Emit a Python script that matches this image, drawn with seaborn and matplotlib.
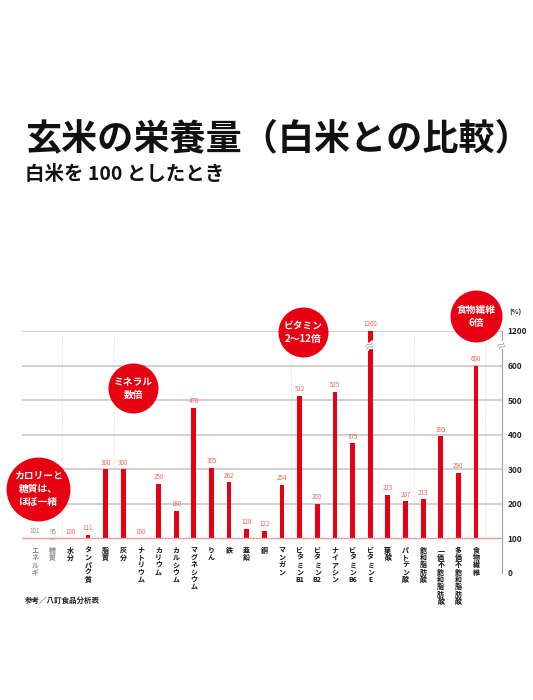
import numpy as np
import matplotlib
matplotlib.use("Agg")
import matplotlib.pyplot as plt
import matplotlib.patheffects as pe
import seaborn as sns

# data (玄米 / 白米 = 100)
categories = ['エネルギ', '糖質', '水分', 'タンパク質', '脂質', '灰分', 'ナトリウム',
              'カリウム', 'カルシウム', 'マグネシウム', 'りん', '鉄', '亜鉛', '銅',
              'マンガン', 'ビタミンB1', 'ビタミンB2', 'ナイアシン', 'ビタミンB6',
              'ビタミンE', '葉酸', 'パトテン酸', '飽和脂肪酸', '一価不飽和脂肪酸',
              '多価不飽和脂肪酸', '食物繊維']
values = [101, 95, 100, 111, 300, 300, 100, 258, 180, 478, 305, 262, 128, 122,
          254, 512, 200, 525, 375, 1200, 225, 207, 213, 395, 290, 600]
muted = ['エネルギ', '糖質']
tick_values = [0, 100, 200, 300, 400, 500, 600, 700]
tick_labels = ['0', '100', '200', '300', '400', '500', '600', '1200']
group_edges = [1.5, 4.5, 14.5, 21.5, 25.5]
callouts = [
    ('カロリーと\n糖質は、\nほぼ一緒', 0.17, 243, 2116),
    ('ミネラル\n数倍', 5.56, 535, 1296),
    ('ビタミン\n2〜12倍', 15.19, 697, 1296),
    ('食物繊維\n6倍', 25.0, 743, 1400),
]

RED = '#e60012'
LABEL_RED = '#f26450'
GREY = '#8c8c8c'

sns.set_theme(style='white')
plt.rcParams['font.family'] = ['Noto Sans CJK JP', 'DejaVu Sans']

# values above 600 are drawn at the 700 slot (axis break -> 1200)
shown = np.where(np.array(values) > 600, 700, np.array(values))
heights = shown - 100


def tategaki(s):
    out, buf = [], ''
    for ch in s:
        if ch.isascii():
            buf += ch
        else:
            if buf:
                out.append(buf)
                buf = ''
            out.append(ch)
    if buf:
        out.append(buf)
    return '\n'.join(out)


fig = plt.figure(figsize=(5.33, 7.0), dpi=100)
ax = fig.add_axes([22 / 533, 1 - 573 / 700, 480 / 533, 242 / 700])

colors = ['#d0d0d0' if c in muted else RED for c in categories]
sns.barplot(x=categories, y=heights, hue=categories, palette=colors, legend=False,
            bottom=100, width=0.27, linewidth=0, saturation=1, ax=ax, zorder=3)

ax.set_xlim(-0.74, 26.47)
ax.set_ylim(0, 700)

# grid lines
for v in tick_values[2:]:
    ax.axhline(v, color='#c8c8c8', lw=1.2, zorder=1)
ax.axhline(100, color='#f59a9a', lw=1.0, zorder=4)

# faint group separators
ax.vlines(group_edges, 100, 700, colors='#f6cfcf', lw=0.7, linestyles=(0, (1, 1.5)),
          zorder=0.5)

# value labels
for i, (v, h) in enumerate(zip(values, shown)):
    col = GREY if categories[i] in muted else LABEL_RED
    ax.text(i, max(h, 100) + 8, str(v), ha='center', va='bottom', fontsize=4.5,
            color=col, zorder=5)

# axes styling
for s in ['top', 'left', 'bottom']:
    ax.spines[s].set_visible(False)
ax.spines['right'].set_color('#a0a0a0')
ax.spines['right'].set_linewidth(0.8)
ax.yaxis.tick_right()
ax.set_yticks(tick_values)
ax.set_yticklabels(tick_labels, fontsize=6, fontweight='bold', color='#222222')
ax.tick_params(axis='y', length=0, pad=4)

ax.set_xticks(range(len(categories)))
ax.set_xticklabels([tategaki(c) for c in categories], fontsize=5, fontweight='bold',
                   linespacing=1.05)
ax.tick_params(axis='x', length=0, pad=-19)
for lab, c in zip(ax.get_xticklabels(), categories):
    lab.set_color(GREY if c in muted else '#111111')
    lab.set_va('top')
ax.set_xlabel('')
ax.set_ylabel('')

# axis break marks
brk = dict(fontsize=8, color='#999999', ha='center', va='center', rotation=25,
           path_effects=[pe.withStroke(linewidth=2.5, foreground='white')], zorder=6)
ax.text(1.0, 654, '≈', transform=ax.get_yaxis_transform(), clip_on=False, **brk)
ax.text(categories.index('ビタミンE'), 654, '≈', **brk)

# red callout circles
for text, cx, cy, size in callouts:
    ax.scatter([cx], [cy], s=size, color=RED, linewidths=0, zorder=7, clip_on=False)
    ax.text(cx, cy, text, ha='center', va='center', color='white', fontsize=7,
            fontweight='bold', linespacing=1.4, zorder=8, clip_on=False)

fig.text(515 / 533, 1 - 312 / 700, '(%)', fontsize=5, fontweight='bold', ha='center',
         va='center', color='#222222')

fig.text(25 / 533, 1 - 139 / 700, '玄米の栄養量（白米との比較）', fontsize=26,
         fontweight='bold', ha='left', va='center', color='#111111')
fig.text(25 / 533, 1 - 175 / 700, '白米を 100 としたとき', fontsize=14,
         fontweight='bold', ha='left', va='center', color='#111111')
fig.text(25 / 533, 1 - 600 / 700, '参考／八訂食品分析表', fontsize=5.4,
         fontweight='bold', ha='left', va='center', color='#222222')

fig.savefig('out.png', dpi=100)
